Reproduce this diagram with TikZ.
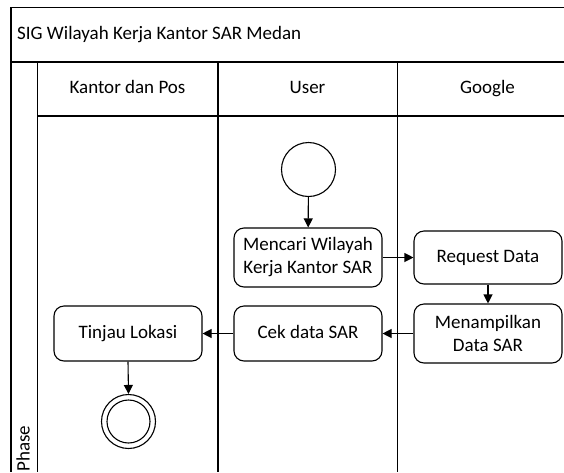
\documentclass[tikz,border=0pt]{standalone}
\usepackage{fontspec}
\setmainfont{Carlito}
\usetikzlibrary{arrows.meta}
\begin{document}
\begin{tikzpicture}[x=1pt,y=-1pt,
  act/.style={draw, rounded corners=10pt, minimum width=148pt, align=center, font=\fontsize{19}{23}\selectfont, line width=1.1pt, inner sep=0pt},
  oneline/.style={text height=13pt, text depth=4pt},
  lane/.style={line width=1.3pt},
  flow/.style={line width=1.1pt, -{Triangle[length=9pt,width=9pt]}},
  lbl/.style={font=\fontsize{19}{23}\selectfont, inner sep=0pt, text height=13pt, text depth=4pt},
  ring/.style={circle, draw, line width=1.1pt, inner sep=0pt}
]
\useasboundingbox (0,0) rectangle (564,472);
% frame
\draw[lane] (564,7.5) -- (11,7.5) -- (11,472);
\draw[lane] (11,62) -- (564,62);
\draw[lane] (37.5,116) -- (564,116);
\draw[lane] (37.5,62) -- (37.5,472);
\draw[lane] (218,62) -- (218,472);
\draw[lane] (397.5,62) -- (397.5,472);
% labels
\node[lbl, anchor=west] (title) at (17,35) {SIG Wilayah Kerja Kantor SAR Medan};
\node[lbl] (hkantor) at (127.5,89) {Kantor dan Pos};
\node[lbl] (huser) at (307.5,89) {User};
\node[lbl] (hgoogle) at (487.5,89) {Google};
\node[lbl, rotate=90] (phase) at (25,448.5) {Phase};
% nodes
\node[ring, minimum size=54pt] (start) at (308.5,169.5) {};
\node[act, minimum height=59pt] (mencari) at (308,257.5) {Mencari Wilayah\\Kerja Kantor SAR};
\node[act, oneline, minimum height=53pt] (request) at (488,257.5) {Request Data};
\node[act, minimum height=59pt] (menampilkan) at (488,333.5) {Menampilkan\\Data SAR};
\node[act, oneline, minimum height=55pt] (cek) at (308,333.5) {Cek data SAR};
\node[act, oneline, minimum height=55pt] (tinjau) at (128,333.5) {Tinjau Lokasi};
\node[ring, minimum size=54pt] (end) at (128.5,421.5) {};
\node[ring, minimum size=43pt] (endin) at (128.5,421.5) {};
% flows
\draw[flow] (start) -- (mencari);
\draw[flow] (mencari) -- (request);
\draw[flow] (request) -- (menampilkan);
\draw[flow] (menampilkan) -- (cek);
\draw[flow] (cek) -- (tinjau);
\draw[flow] (tinjau.south) -- (end.north);
\end{tikzpicture}
\end{document}
